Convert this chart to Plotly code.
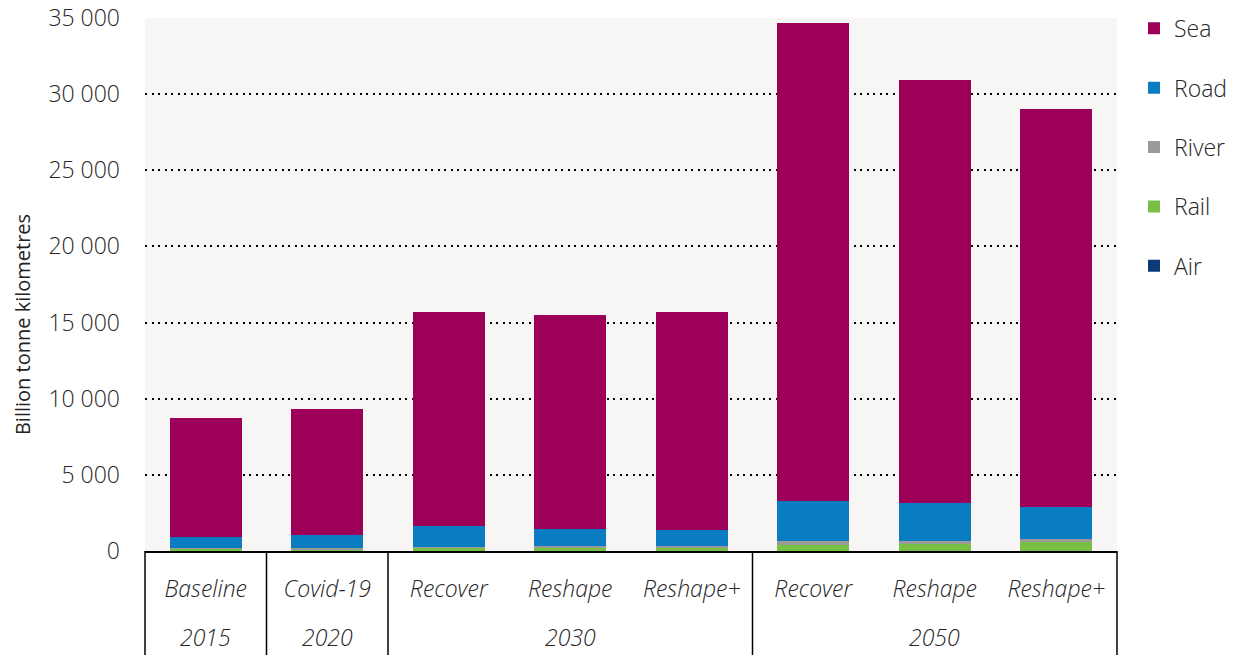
import plotly.graph_objects as go

years = ["2015", "2020", "2030", "2030", "2030", "2050", "2050", "2050"]
scenarios = ["Baseline", "Covid-19", "Recover", "Reshape", "Reshape+", "Recover", "Reshape", "Reshape+"]

air = [5, 5, 10, 10, 10, 20, 20, 20]
rail = [130, 120, 200, 220, 230, 380, 440, 560]
river = [50, 45, 80, 80, 80, 260, 220, 190]
road = [735, 880, 1380, 1130, 1060, 2600, 2440, 2120]
sea = [7830, 8270, 14040, 14080, 14330, 31430, 27830, 26130]

y_ticks = [0, 5000, 10000, 15000, 20000, 25000, 30000, 35000]

series = [
    ("Air", air, "#0b3a78"),
    ("Rail", rail, "#77c043"),
    ("River", river, "#9a9a9a"),
    ("Road", road, "#0a7dc2"),
    ("Sea", sea, "#9c0059"),
]

FONT = "Open Sans"
TXT = "#262626"
FS = 23
W = 300

pos = list(range(len(scenarios)))

fig = go.Figure()
n = len(series)
for i, (name, vals, col) in enumerate(series):
    fig.add_trace(go.Bar(
        x=pos, y=vals, name=name, legendgroup=name, legendrank=n - i,
        marker=dict(color=col, line=dict(width=0)),
    ))

# year groups: label centred on its scenarios, dividers at group boundaries
groups = []
for i, yv in enumerate(years):
    if groups and groups[-1][0] == yv:
        groups[-1][2] = i
    else:
        groups.append([yv, i, i])

annotations = []
shapes = []
bottom_y = -104 / 533
for yv, a, b in groups:
    annotations.append(dict(
        text=yv, xref="x", yref="paper", x=(a + b) / 2, y=-86 / 533,
        xanchor="center", yanchor="middle", showarrow=False,
        font=dict(family=FONT, size=FS, color=TXT, style="italic", weight=W),
    ))
    if a > 0:
        shapes.append(dict(type="line", xref="x", yref="paper",
                           x0=a - 0.5, x1=a - 0.5, y0=0, y1=bottom_y,
                           line=dict(color="black", width=1.5)))
for xd in (0, 1):
    shapes.append(dict(type="line", xref="x domain", yref="paper",
                       x0=xd, x1=xd, y0=0, y1=bottom_y,
                       line=dict(color="black", width=1.5)))

annotations.append(dict(
    text="Billion tonne kilometres", xref="paper", yref="paper",
    x=-0.1265, y=0.424, xanchor="center", yanchor="middle",
    textangle=-90, showarrow=False,
    font=dict(family=FONT, size=20, color="#222222", weight=400),
))

fig.update_layout(
    width=1237, height=655,
    margin=dict(l=145, r=120, t=18, b=104, autoexpand=False),
    barmode="stack", bargap=0.41,
    paper_bgcolor="white", plot_bgcolor="#f7f6f4",
    separators=". ",
    font=dict(family=FONT, size=FS, color=TXT, weight=W),
    showlegend=True,
    legend=dict(
        x=1.0175, xanchor="left", y=1.021, yanchor="top",
        traceorder="grouped", tracegroupgap=26.5,
        font=dict(family=FONT, size=FS, color=TXT, weight=W),
        bgcolor="rgba(0,0,0,0)",
    ),
    xaxis=dict(
        range=[-0.5, 7.5], tickvals=pos, ticktext=scenarios,
        showline=True, linecolor="black", linewidth=2,
        ticks="", showgrid=False, zeroline=False, automargin=False,
        tickfont=dict(family=FONT, size=FS, color=TXT, style="italic", weight=W),
        ticklabelstandoff=16,
    ),
    yaxis=dict(
        range=[0, 35000], tickvals=y_ticks, tickformat=",",
        showgrid=True, gridcolor="black", gridwidth=2, griddash="2px,4.5px",
        zeroline=False, showline=False, ticks="", automargin=False,
        ticklabelstandoff=24,
        tickfont=dict(family=FONT, size=FS, color=TXT, weight=W),
    ),
    annotations=annotations,
    shapes=shapes,
)

fig.write_html("out.html", config={"displayModeBar": False},
               post_script="document.body.style.margin='0';")
